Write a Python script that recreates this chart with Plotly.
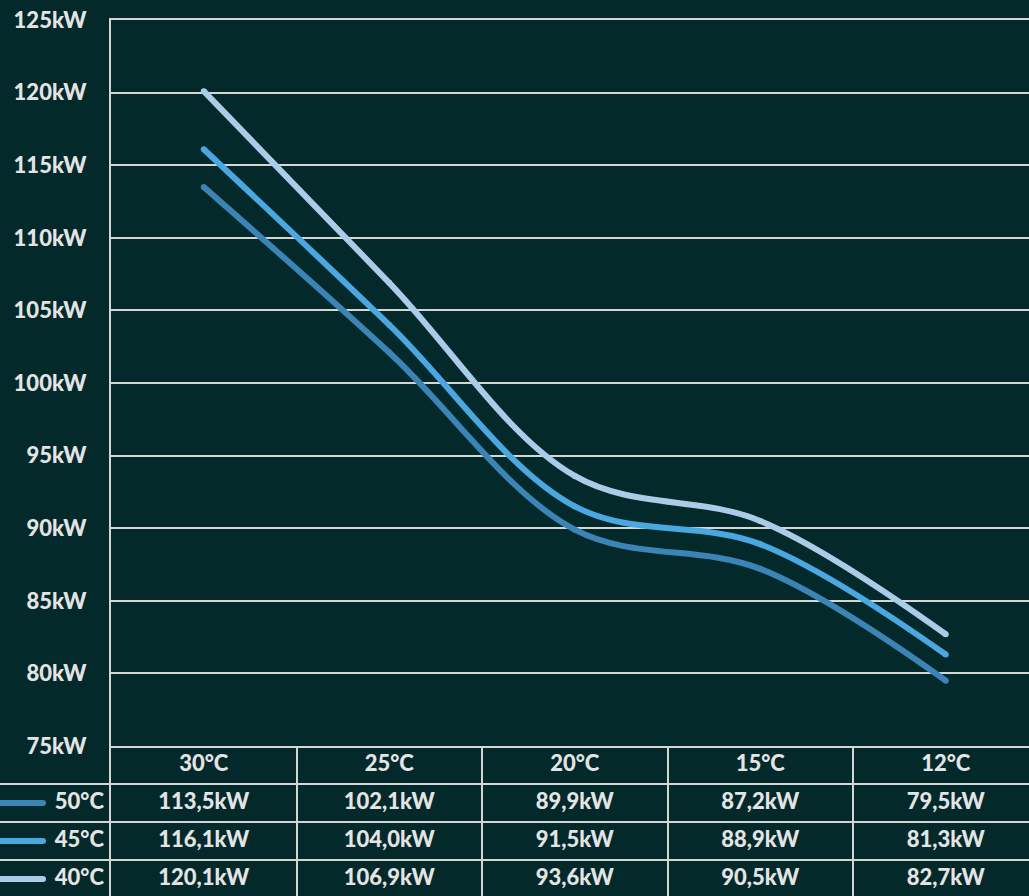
import plotly.graph_objects as go

# ---- data ----
categories = ["30°C", "25°C", "20°C", "15°C", "12°C"]
series_names = ["50°C", "45°C", "40°C"]
values_50 = [113.5, 102.1, 89.9, 87.2, 79.5]
values_45 = [116.1, 104.0, 91.5, 88.9, 81.3]
values_40 = [120.1, 106.9, 93.6, 90.5, 82.7]
y_ticks = [75, 80, 85, 90, 95, 100, 105, 110, 115, 120, 125]
y_tick_labels = [f"{v}kW" for v in y_ticks]

series_values = [values_50, values_45, values_40]
colors = ["#3b84b5", "#4aa7df", "#a9cde9"]

BG = "#03292a"
GRID = "#d4d6d4"
TXT = "#e4e4e4"
FONT = dict(family="Lato, DejaVu Sans, sans-serif", size=22, color=TXT, weight=900)

W, H = 1029, 896
L, T = 111, 20
plot_h = H - T
col_w = 185.5
row_h = 38
table_h = 150
x_max = -0.5 + (W - L) / col_w
tbl_frac = table_h / plot_h
x_dom0 = L / W

fig = go.Figure()

xs = list(range(len(categories)))
for name, vals, c in zip(series_names, series_values, colors):
    fig.add_trace(go.Scatter(
        x=xs, y=vals, mode="lines+markers", name=name,
        line=dict(color=c, width=6, shape="spline", smoothing=1.0),
        marker=dict(color=c, size=6, line=dict(width=0)),
        xaxis="x", yaxis="y", showlegend=False, hoverinfo="skip", cliponaxis=False,
    ))

# table header
fig.add_trace(go.Scatter(
    x=xs, y=[0] * len(xs), mode="text", text=categories,
    textfont=FONT, xaxis="x2", yaxis="y2", showlegend=False, hoverinfo="skip",
    cliponaxis=False,
))

def fmt(v):
    return f"{v:.1f}".replace(".", ",") + "kW"

for r, vals in enumerate(series_values, start=1):
    fig.add_trace(go.Scatter(
        x=xs, y=[r] * len(xs), mode="text", text=[fmt(v) for v in vals],
        textfont=FONT, xaxis="x2", yaxis="y2", showlegend=False, hoverinfo="skip",
        cliponaxis=False,
    ))

# legend cells (left of the table), drawn on their own small axis (pixel units 0..L)
for r, (name, c) in enumerate(zip(series_names, colors), start=1):
    fig.add_trace(go.Scatter(
        x=[-5, 43], y=[r, r], mode="lines+markers",
        line=dict(color=c, width=6), marker=dict(color=c, size=6),
        xaxis="x3", yaxis="y3", showlegend=False, hoverinfo="skip", cliponaxis=True,
    ))
    fig.add_trace(go.Scatter(
        x=[104], y=[r], mode="text", text=[name], textposition="middle left",
        textfont=FONT, xaxis="x3", yaxis="y3", showlegend=False, hoverinfo="skip",
        cliponaxis=False,
    ))

shapes = []
for r in (0.5, 1.5, 2.5):
    shapes.append(dict(type="line", xref="paper", yref="y2", x0=0, x1=1,
                       y0=r, y1=r, line=dict(color=GRID, width=2), layer="above"))

y2_range = [-0.5 + table_h / row_h, -0.5]
fig.update_layout(
    width=W, height=H,
    margin=dict(l=0, r=0, t=T, b=0, pad=0, autoexpand=False),
    paper_bgcolor=BG, plot_bgcolor=BG,
    font=FONT,
    shapes=shapes,
    xaxis=dict(domain=[x_dom0, 1], anchor="y", range=[-0.5, x_max], showgrid=False,
               showticklabels=False, ticks="", zeroline=False, automargin=False,
               showline=True, mirror=True, linecolor=GRID, linewidth=2),
    yaxis=dict(domain=[tbl_frac, 1], anchor="x", range=[75, 125], tickvals=y_ticks,
               ticktext=y_tick_labels, showgrid=True, gridcolor=GRID, gridwidth=2,
               zeroline=False, showline=True, linecolor=GRID, linewidth=2, automargin=False,
               ticks="", ticklabelstandoff=18, tickfont=FONT),
    xaxis2=dict(domain=[x_dom0, 1], anchor="y2", range=[-0.5, x_max],
                tickvals=[0.5, 1.5, 2.5, 3.5, 4.5], showgrid=True, gridcolor=GRID, gridwidth=2,
                showticklabels=False, ticks="", zeroline=False, automargin=False),
    yaxis2=dict(domain=[0, tbl_frac], anchor="x2", range=y2_range,
                showgrid=False, showticklabels=False, ticks="", zeroline=False,
                showline=True, linecolor=GRID, linewidth=2, automargin=False),
    xaxis3=dict(domain=[0, x_dom0], anchor="y3", range=[0, L], visible=False, automargin=False),
    yaxis3=dict(domain=[0, tbl_frac], anchor="x3", range=y2_range, visible=False, automargin=False),
)

fig.write_html("out.html", config={"displayModeBar": False, "responsive": False})

# remove default page margin so the figure sits at the window's top-left corner
with open("out.html", "r", encoding="utf-8") as f:
    html = f.read()
html = html.replace("<head>", "<head><style>html,body{margin:0;padding:0;overflow:hidden;background:%s}</style>" % BG, 1)
with open("out.html", "w", encoding="utf-8") as f:
    f.write(html)
